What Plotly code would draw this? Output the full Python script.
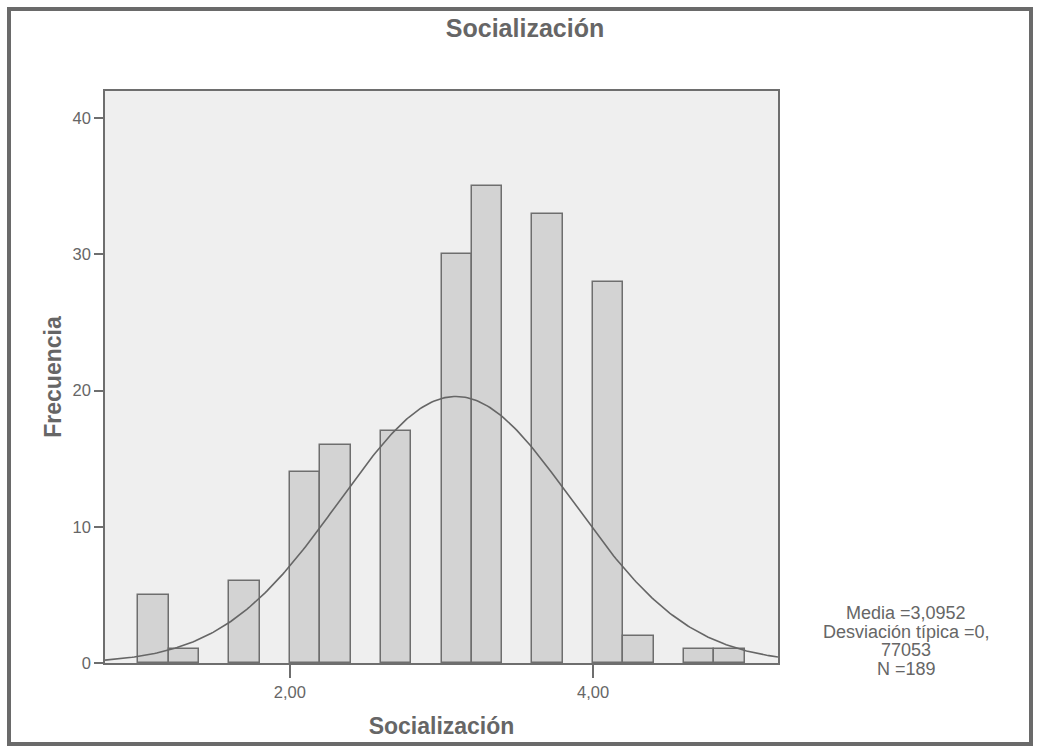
import numpy as np
import plotly.graph_objects as go

# Data
bin_starts = [1.0, 1.2, 1.6, 2.0, 2.2, 2.6, 3.0, 3.2, 3.6, 4.0, 4.2, 4.6, 4.8]
counts = [5, 1, 6, 14, 16, 17, 30, 35, 33, 28, 2, 1, 1]
bin_width = 0.2
media = 3.0952
desviacion = 0.77053
n_total = 189
x_tickvals = [2.0, 4.0]
x_ticktext = ["2,00", "4,00"]
y_tickvals = [0, 10, 20, 30, 40]
stats_lines = ["Media =3,0952", "Desviación típica =0,", "77053", "N =189"]

x_range = [0.78, 5.22]
y_range = [0, 42]

centers = [b + bin_width / 2 for b in bin_starts]

# Fitted normal curve defined by the displayed statistics
curve_x = np.linspace(x_range[0], x_range[1], 300)
curve_y = n_total * bin_width / (desviacion * np.sqrt(2 * np.pi)) * np.exp(-0.5 * ((curve_x - media) / desviacion) ** 2)

text_col = "#666666"
line_col = "#6e6e6e"

fig = go.Figure()
fig.add_trace(go.Bar(
    x=centers, y=counts, width=bin_width,
    marker=dict(color="#d3d3d3", line=dict(color=line_col, width=1.5)),
    showlegend=False, hoverinfo="x+y",
))
fig.add_trace(go.Scatter(
    x=curve_x, y=curve_y, mode="lines",
    line=dict(color="#666666", width=1.6),
    showlegend=False, hoverinfo="skip",
))

L, R, T, B = 105, 261, 91, 85
W, H = 1039, 748
pw = W - L - R
ph = H - T - B

def px_to_paper_x(px):
    return (px - L) / pw

def px_to_paper_y(py):
    return (H - B - py) / ph

annotations = []
for i, line in enumerate(stats_lines):
    annotations.append(dict(
        text=line, x=px_to_paper_x(906), y=px_to_paper_y(641 + (i - 1.5) * 18.5),
        xref="paper", yref="paper", xanchor="center", yanchor="middle",
        showarrow=False, font=dict(size=18, color=text_col)))

fig.update_layout(
    width=W, height=H,
    margin=dict(l=L, r=R, t=T, b=B),
    paper_bgcolor="white",
    plot_bgcolor="#efefef",
    font=dict(family="Liberation Sans, Arial, sans-serif", color=text_col, size=16),
    title=dict(text="<b>Socialización</b>", x=px_to_paper_x(525), xref="paper", xanchor="center",
               y=1 - 28 / H, yanchor="middle", font=dict(size=25, color=text_col)),
    bargap=0,
    xaxis=dict(range=x_range, tickvals=x_tickvals, ticktext=x_ticktext,
               ticks="outside", ticklen=13, tickcolor=line_col, tickwidth=1.5,
               showline=True, linecolor=line_col, linewidth=1.5, mirror=True,
               showgrid=False, zeroline=False,
               tickfont=dict(size=16.5, color=text_col),
               title=dict(text="<b>Socialización</b>", font=dict(size=23, color=text_col), standoff=18)),
    yaxis=dict(range=y_range, tickvals=y_tickvals,
               ticks="outside", ticklen=9, tickcolor=line_col, tickwidth=1.5,
               showline=True, linecolor=line_col, linewidth=1.5, mirror=True,
               showgrid=False, zeroline=False,
               tickfont=dict(size=16.5, color=text_col),
               title=dict(text="<b>Frecuencia</b>", font=dict(size=23, color=text_col), standoff=5)),
    annotations=annotations,
    shapes=[dict(type="rect", xref="paper", yref="paper",
                 x0=px_to_paper_x(9), x1=px_to_paper_x(1031),
                 y0=px_to_paper_y(744), y1=px_to_paper_y(9),
                 line=dict(color="#6a6a6a", width=4), fillcolor="rgba(0,0,0,0)", layer="below")],
)

fig.write_html("out.html", config={"displayModeBar": False},
               post_script="document.body.style.margin='0';")
